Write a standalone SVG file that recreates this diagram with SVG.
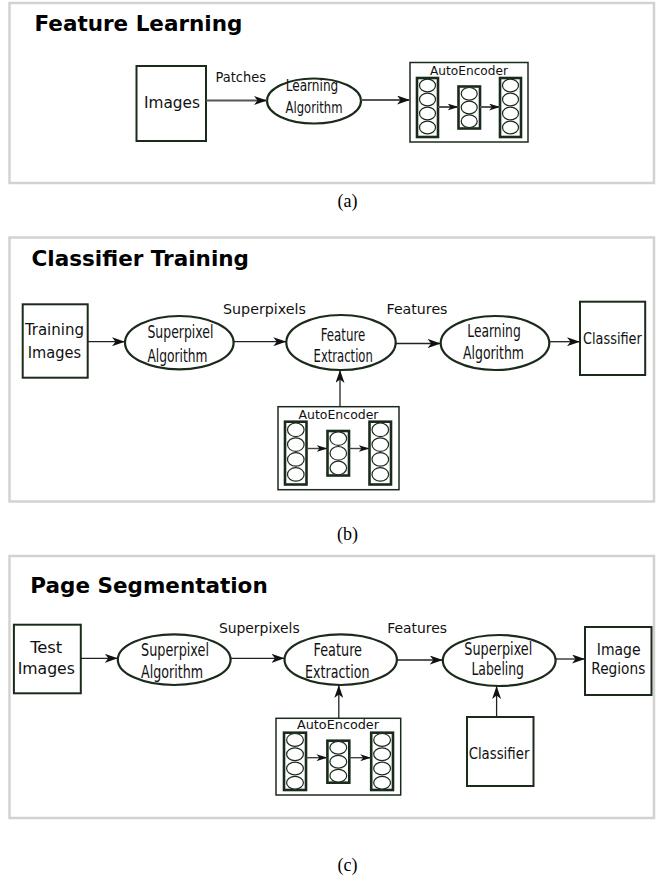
<svg xmlns="http://www.w3.org/2000/svg" width="657" height="877" viewBox="0 0 657 877">
<style>
.frame{fill:#fff;stroke:#d2d2d2;stroke-width:2.5}
.title{font-family:"DejaVu Sans",Verdana,sans-serif;font-weight:bold;font-size:21.5px;fill:#000}
.cap{font-family:"Liberation Serif","Times New Roman",serif;font-size:18px;fill:#000;text-anchor:middle}
.box{fill:#fff;stroke:#1b2b1b;stroke-width:2}
.ell{fill:#fff;stroke:#1b2b1b;stroke-width:2.2}
.nt{font-family:"DejaVu Sans Condensed","DejaVu Sans",sans-serif;fill:#111;text-anchor:middle}
.lab{font-family:"DejaVu Sans",Verdana,sans-serif;fill:#111;text-anchor:middle;font-size:14px}
.ae{fill:#fff;stroke:#1b2b1b;stroke-width:1.5}
.aet{font-family:"DejaVu Sans",Verdana,sans-serif;fill:#111;text-anchor:middle;font-size:12px}
.col{fill:#fff;stroke:#1b2b1b;stroke-width:2.6}
.neu{fill:#fff;stroke:#1b2b1b;stroke-width:1.2}
.ca{stroke:#555;stroke-width:2;fill:none}
.cb{stroke:#222;stroke-width:1.3;fill:none}
.ci{stroke:#444;stroke-width:1.4;fill:none}
</style>
<defs>
<marker id="ah" markerUnits="userSpaceOnUse" viewBox="0 0 13 9" markerWidth="13" markerHeight="9" refX="13" refY="4.5" orient="auto">
<path d="M0,0 L13,4.5 L0,9 L3.5,4.5 Z" fill="#111"/>
</marker>
<marker id="ahs" markerUnits="userSpaceOnUse" viewBox="0 0 11 7" markerWidth="11" markerHeight="7" refX="11" refY="3.5" orient="auto">
<path d="M0,0 L11,3.5 L0,7 L3,3.5 Z" fill="#111"/>
</marker>
</defs>
<rect width="657" height="877" fill="#fff"/>

<!-- Panel (a) -->
<rect class="frame" x="9.5" y="3" width="644.5" height="180"/>
<text class="title" x="34.5" y="30.5">Feature Learning</text>
<text class="cap" x="347.5" y="206.5">(a)</text>

<g id="a-images">
<rect class="box" x="136.5" y="66" width="69.5" height="75"/>
<text class="nt" x="172" y="108" font-size="16" textLength="56" lengthAdjust="spacingAndGlyphs">Images</text>
</g>
<g id="a-learning">
<ellipse class="ell" cx="314" cy="101" rx="47" ry="22.5"/>
<text class="nt" x="312" y="90.7" font-size="15" textLength="52.7" lengthAdjust="spacingAndGlyphs">Learning</text>
<text class="nt" x="314" y="113.3" font-size="15" textLength="57" lengthAdjust="spacingAndGlyphs">Algorithm</text>
</g>
<g id="a-autoencoder">
<rect class="ae" x="410" y="62.5" width="118" height="79.5"/>
<text class="aet" x="469" y="74.5" textLength="78" lengthAdjust="spacingAndGlyphs">AutoEncoder</text>
<rect class="col" x="417" y="78" width="21" height="59"/>
<ellipse class="neu" cx="427.5" cy="85.5" rx="8" ry="6.3"/>
<ellipse class="neu" cx="427.5" cy="99.5" rx="8" ry="6.3"/>
<ellipse class="neu" cx="427.5" cy="113.5" rx="8" ry="6.3"/>
<ellipse class="neu" cx="427.5" cy="127.5" rx="8" ry="6.3"/>
<rect class="col" x="458.5" y="86.5" width="21.5" height="42"/>
<ellipse class="neu" cx="469.2" cy="93.8" rx="8" ry="6.3"/>
<ellipse class="neu" cx="469.2" cy="107.5" rx="8" ry="6.3"/>
<ellipse class="neu" cx="469.2" cy="121.2" rx="8" ry="6.3"/>
<rect class="col" x="500" y="78" width="21" height="59"/>
<ellipse class="neu" cx="510.5" cy="85.5" rx="8" ry="6.3"/>
<ellipse class="neu" cx="510.5" cy="99.5" rx="8" ry="6.3"/>
<ellipse class="neu" cx="510.5" cy="113.5" rx="8" ry="6.3"/>
<ellipse class="neu" cx="510.5" cy="127.5" rx="8" ry="6.3"/>
</g>
<g id="a-connectors">
<line class="ca" x1="206" y1="100.5" x2="267" y2="100.5" marker-end="url(#ah)"/>
<text class="lab" x="240.7" y="81.5" font-size="12.5" textLength="50.5" lengthAdjust="spacingAndGlyphs">Patches</text>
<line class="ca" x1="361" y1="100" x2="410" y2="100" marker-end="url(#ah)"/>
<line class="ca" x1="438" y1="107" x2="458.5" y2="107" marker-end="url(#ahs)"/>
<line class="ca" x1="480" y1="107" x2="500" y2="107" marker-end="url(#ahs)"/>
</g>

<!-- Panel (b) -->
<rect class="frame" x="9.5" y="237.5" width="644.5" height="264"/>
<text class="title" x="31.6" y="266">Classifier Training</text>
<text class="cap" x="347.5" y="540">(b)</text>

<g id="b-training-images">
<rect class="box" x="22.7" y="304.3" width="65" height="73.4"/>
<text class="nt" x="54.5" y="335" font-size="15.5" textLength="59" lengthAdjust="spacingAndGlyphs">Training</text>
<text class="nt" x="54.4" y="358.3" font-size="15.5" textLength="53.3" lengthAdjust="spacingAndGlyphs">Images</text>
</g>
<g id="b-superpixel-algorithm">
<ellipse class="ell" cx="179.3" cy="342.7" rx="54.3" ry="26.7"/>
<text class="nt" x="180.4" y="338.3" font-size="17.5" textLength="66" lengthAdjust="spacingAndGlyphs">Superpixel</text>
<text class="nt" x="177.4" y="361.7" font-size="17.5" textLength="60" lengthAdjust="spacingAndGlyphs">Algorithm</text>
</g>
<g id="b-feature-extraction">
<ellipse class="ell" cx="341" cy="342.5" rx="54.7" ry="27.5"/>
<text class="nt" x="343" y="340.7" font-size="17.5" textLength="44.6" lengthAdjust="spacingAndGlyphs">Feature</text>
<text class="nt" x="343.2" y="362.3" font-size="17.5" textLength="59.3" lengthAdjust="spacingAndGlyphs">Extraction</text>
</g>
<g id="b-learning-algorithm">
<ellipse class="ell" cx="495" cy="343" rx="54.3" ry="27"/>
<text class="nt" x="494" y="336.7" font-size="17.5" textLength="53.4" lengthAdjust="spacingAndGlyphs">Learning</text>
<text class="nt" x="493.5" y="359.3" font-size="17.5" textLength="61" lengthAdjust="spacingAndGlyphs">Algorithm</text>
</g>
<g id="b-classifier">
<rect class="box" x="580" y="301.7" width="65.2" height="73.3"/>
<text class="nt" x="612.4" y="344.3" font-size="16" textLength="58.8" lengthAdjust="spacingAndGlyphs">Classifier</text>
</g>
<g id="b-autoencoder">
<rect class="ae" x="278" y="406.7" width="121" height="83"/>
<text class="aet" x="338.5" y="418.5" textLength="80" lengthAdjust="spacingAndGlyphs">AutoEncoder</text>
<rect class="col" x="285" y="421.7" width="21.5" height="62.8"/>
<ellipse class="neu" cx="295.8" cy="429.8" rx="8.3" ry="6.8"/>
<ellipse class="neu" cx="295.8" cy="444.6" rx="8.3" ry="6.8"/>
<ellipse class="neu" cx="295.8" cy="459.4" rx="8.3" ry="6.8"/>
<ellipse class="neu" cx="295.8" cy="474.4" rx="8.3" ry="6.8"/>
<rect class="col" x="327.5" y="431" width="21.5" height="44.5"/>
<ellipse class="neu" cx="338.3" cy="438.6" rx="8.3" ry="6.8"/>
<ellipse class="neu" cx="338.3" cy="453.3" rx="8.3" ry="6.8"/>
<ellipse class="neu" cx="338.3" cy="468" rx="8.3" ry="6.8"/>
<rect class="col" x="369.5" y="421.7" width="21.5" height="62.8"/>
<ellipse class="neu" cx="380.3" cy="429.8" rx="8.3" ry="6.8"/>
<ellipse class="neu" cx="380.3" cy="444.6" rx="8.3" ry="6.8"/>
<ellipse class="neu" cx="380.3" cy="459.4" rx="8.3" ry="6.8"/>
<ellipse class="neu" cx="380.3" cy="474.4" rx="8.3" ry="6.8"/>
</g>
<g id="b-connectors">
<line class="cb" x1="87.7" y1="341.7" x2="125" y2="341.7" marker-end="url(#ah)"/>
<line class="cb" x1="233.6" y1="341.7" x2="286.3" y2="341.7" marker-end="url(#ah)"/>
<text class="lab" x="264.5" y="313.5" textLength="83" lengthAdjust="spacingAndGlyphs">Superpixels</text>
<line class="cb" x1="395.7" y1="343.5" x2="440.7" y2="343.5" marker-end="url(#ah)"/>
<text class="lab" x="417" y="313.5" textLength="61" lengthAdjust="spacingAndGlyphs">Features</text>
<line class="cb" x1="549.3" y1="341.7" x2="580" y2="341.7" marker-end="url(#ah)"/>
<line class="cb" x1="340" y1="406.7" x2="340" y2="370" marker-end="url(#ah)"/>
<line class="ci" x1="306.5" y1="448.5" x2="327.5" y2="448.5" marker-end="url(#ahs)"/>
<line class="ci" x1="349" y1="448.5" x2="369.5" y2="448.5" marker-end="url(#ahs)"/>
</g>

<!-- Panel (c) -->
<rect class="frame" x="9.5" y="556" width="644.5" height="262"/>
<text class="title" x="30.3" y="592.7">Page Segmentation</text>
<text class="cap" x="347.5" y="871">(c)</text>

<g id="c-test-images">
<rect class="box" x="13.9" y="624.7" width="66.9" height="68.6"/>
<text class="nt" x="46.3" y="653.3" font-size="16.5" textLength="32" lengthAdjust="spacingAndGlyphs">Test</text>
<text class="nt" x="46.3" y="674" font-size="16.5" textLength="57.3" lengthAdjust="spacingAndGlyphs">Images</text>
</g>
<g id="c-superpixel-algorithm">
<ellipse class="ell" cx="174.2" cy="659.7" rx="56.4" ry="25.3"/>
<text class="nt" x="175" y="656" font-size="17.5" textLength="68" lengthAdjust="spacingAndGlyphs">Superpixel</text>
<text class="nt" x="172" y="677.7" font-size="17.5" textLength="62" lengthAdjust="spacingAndGlyphs">Algorithm</text>
</g>
<g id="c-feature-extraction">
<ellipse class="ell" cx="340.7" cy="659.7" rx="56.2" ry="25.3"/>
<text class="nt" x="337.8" y="655.7" font-size="17.5" textLength="48.4" lengthAdjust="spacingAndGlyphs">Feature</text>
<text class="nt" x="337.3" y="677.7" font-size="17.5" textLength="64.5" lengthAdjust="spacingAndGlyphs">Extraction</text>
</g>
<g id="c-superpixel-labeling">
<ellipse class="ell" cx="499.2" cy="660.5" rx="56.4" ry="25.5"/>
<text class="nt" x="498.3" y="655" font-size="17.5" textLength="68" lengthAdjust="spacingAndGlyphs">Superpixel</text>
<text class="nt" x="497.7" y="675" font-size="17.5" textLength="52.6" lengthAdjust="spacingAndGlyphs">Labeling</text>
</g>
<g id="c-image-regions">
<rect class="box" x="585" y="627" width="66.5" height="68"/>
<text class="nt" x="618.7" y="654.8" font-size="15" textLength="43.8" lengthAdjust="spacingAndGlyphs">Image</text>
<text class="nt" x="618.3" y="674.3" font-size="15" textLength="54" lengthAdjust="spacingAndGlyphs">Regions</text>
</g>
<g id="c-classifier">
<rect class="box" x="467" y="717" width="66.5" height="69"/>
<text class="nt" x="499" y="758.6" font-size="16" textLength="60.7" lengthAdjust="spacingAndGlyphs">Classifier</text>
</g>
<g id="c-autoencoder">
<rect class="ae" x="276" y="718.3" width="124.7" height="76.7"/>
<text class="aet" x="338" y="729.3" textLength="82" lengthAdjust="spacingAndGlyphs">AutoEncoder</text>
<rect class="col" x="284" y="732.7" width="22" height="57.3"/>
<ellipse class="neu" cx="295" cy="739.9" rx="8.4" ry="6.4"/>
<ellipse class="neu" cx="295" cy="754.2" rx="8.4" ry="6.4"/>
<ellipse class="neu" cx="295" cy="768.5" rx="8.4" ry="6.4"/>
<ellipse class="neu" cx="295" cy="782.8" rx="8.4" ry="6.4"/>
<rect class="col" x="327.4" y="740.7" width="21.9" height="42"/>
<ellipse class="neu" cx="338.3" cy="747.7" rx="8.4" ry="6.4"/>
<ellipse class="neu" cx="338.3" cy="761.7" rx="8.4" ry="6.4"/>
<ellipse class="neu" cx="338.3" cy="775.7" rx="8.4" ry="6.4"/>
<rect class="col" x="371.2" y="732.7" width="21.8" height="57.3"/>
<ellipse class="neu" cx="382.1" cy="739.9" rx="8.4" ry="6.4"/>
<ellipse class="neu" cx="382.1" cy="754.2" rx="8.4" ry="6.4"/>
<ellipse class="neu" cx="382.1" cy="768.5" rx="8.4" ry="6.4"/>
<ellipse class="neu" cx="382.1" cy="782.8" rx="8.4" ry="6.4"/>
</g>
<g id="c-connectors">
<line class="cb" x1="80.8" y1="658.3" x2="117.8" y2="658.3" marker-end="url(#ah)"/>
<line class="cb" x1="230.6" y1="658.3" x2="284.5" y2="658.3" marker-end="url(#ah)"/>
<text class="lab" x="259.3" y="633.3" textLength="80.8" lengthAdjust="spacingAndGlyphs">Superpixels</text>
<line class="cb" x1="396.9" y1="660" x2="442.8" y2="660" marker-end="url(#ah)"/>
<text class="lab" x="417.1" y="633.3" textLength="59.8" lengthAdjust="spacingAndGlyphs">Features</text>
<line class="cb" x1="555.6" y1="659" x2="585" y2="659" marker-end="url(#ah)"/>
<line class="cb" x1="338.8" y1="718.3" x2="338.8" y2="685" marker-end="url(#ah)"/>
<line class="cb" x1="496.6" y1="717" x2="496.6" y2="686" marker-end="url(#ah)"/>
<line class="ci" x1="306" y1="757.7" x2="327.4" y2="757.7" marker-end="url(#ahs)"/>
<line class="ci" x1="349.3" y1="757.7" x2="371.2" y2="757.7" marker-end="url(#ahs)"/>
</g>
</svg>
